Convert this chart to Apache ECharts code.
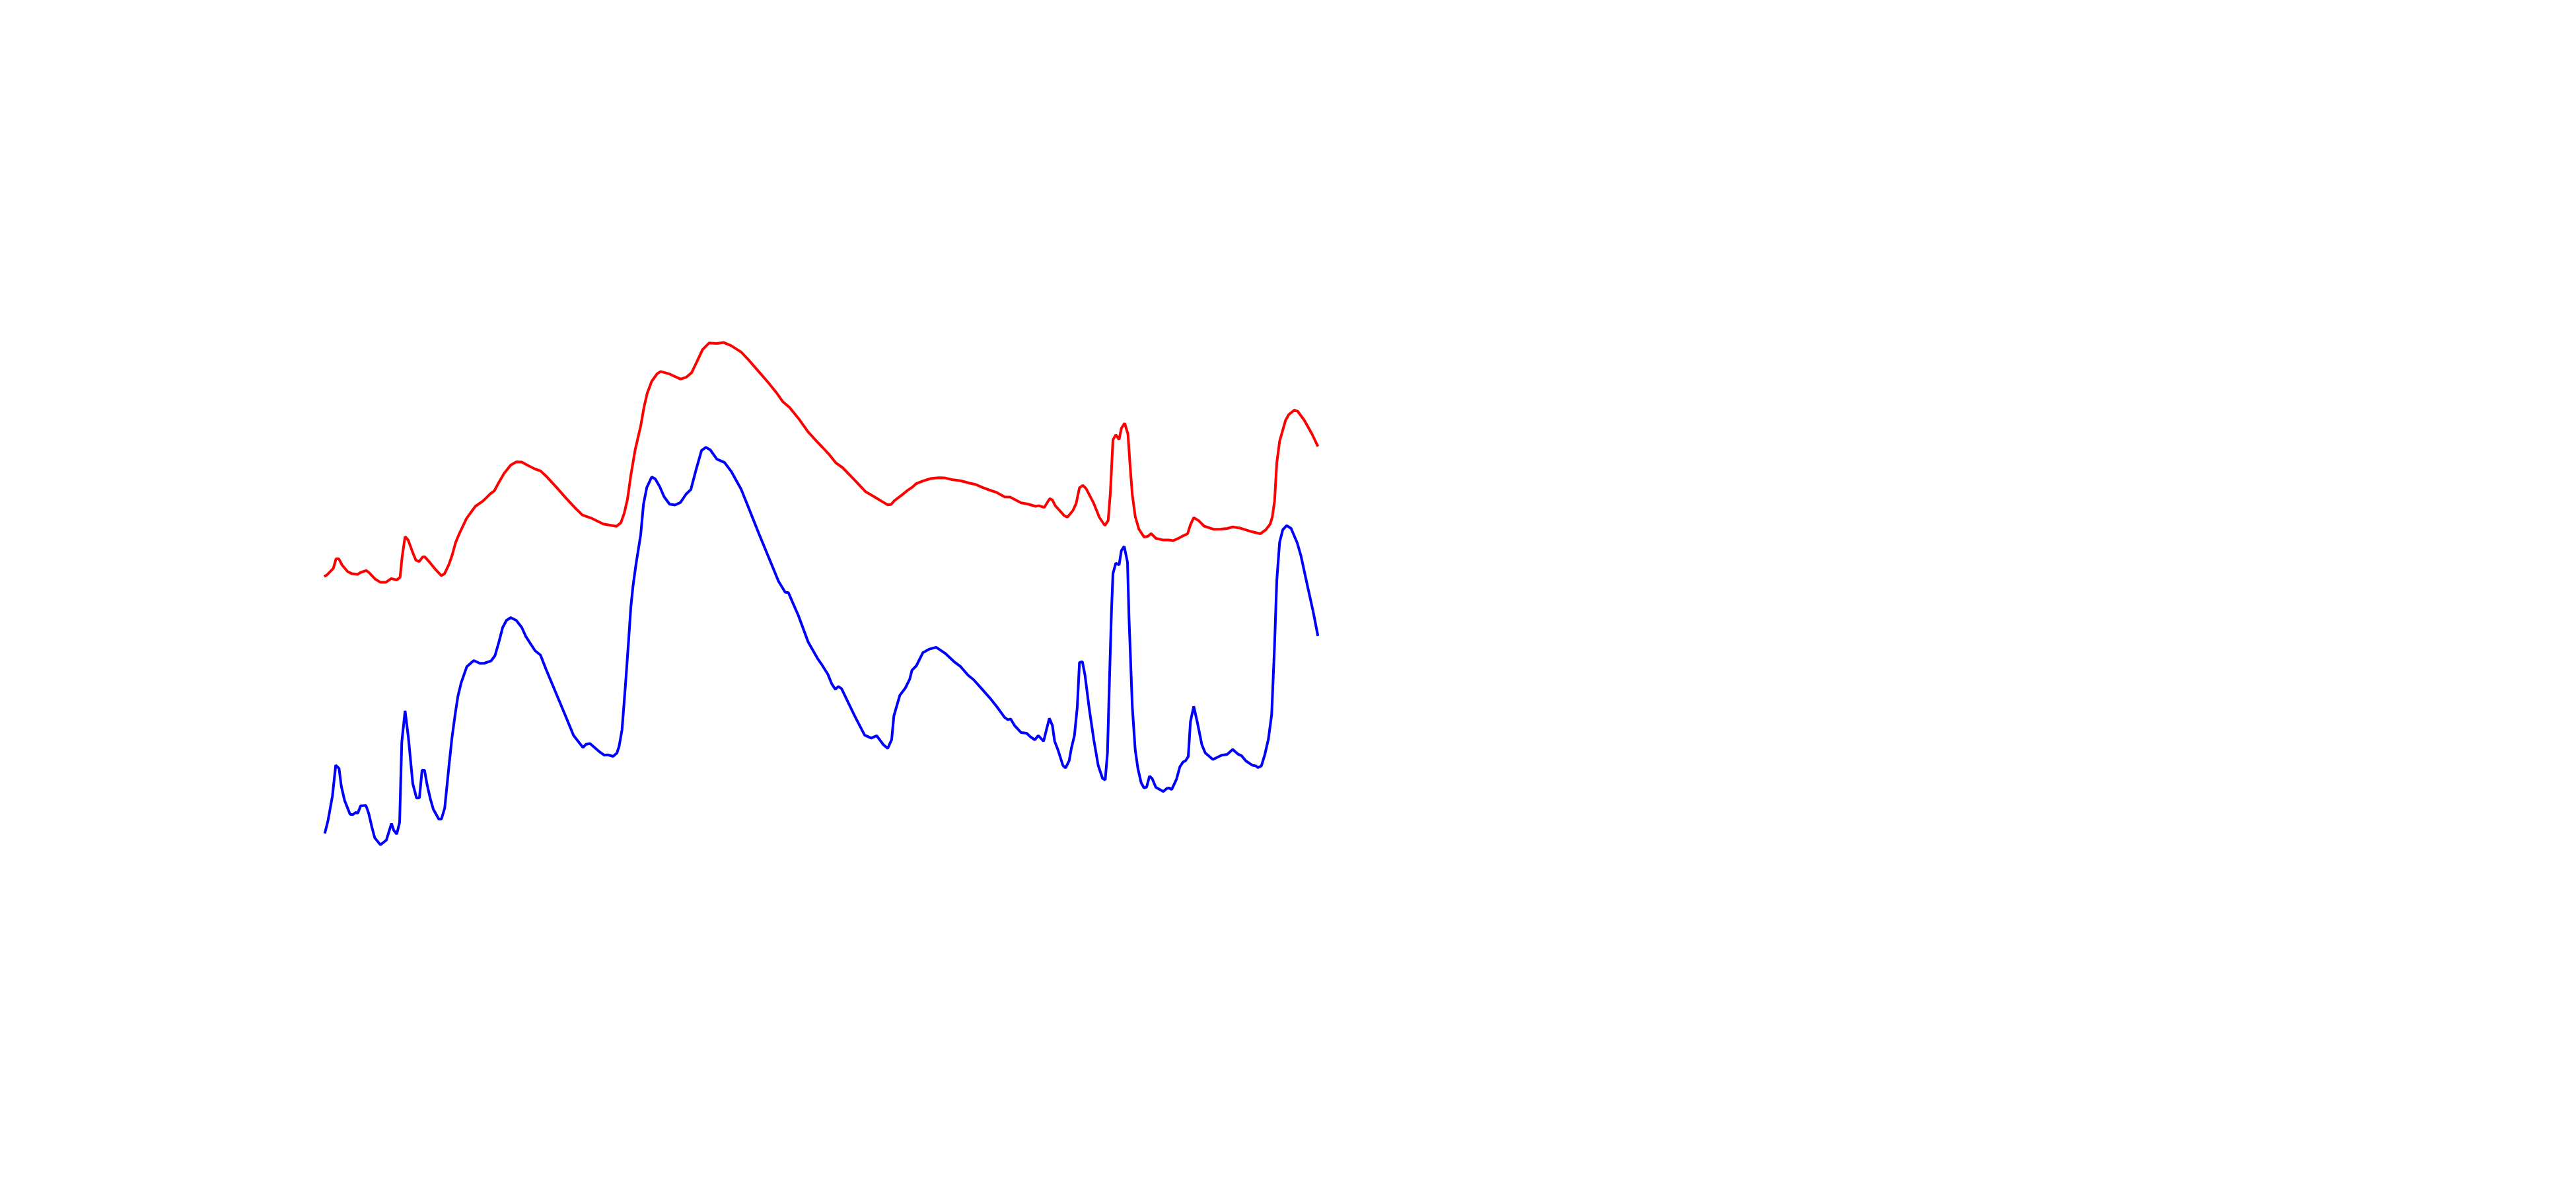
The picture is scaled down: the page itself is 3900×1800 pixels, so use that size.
<!DOCTYPE html>
<html>
<head>
<meta charset="utf-8">
<script src="https://cdn.jsdelivr.net/npm/echarts@6/dist/echarts.min.js"></script>
<style>html,body{margin:0;padding:0;background:#fff}#c{width:3900px;height:1800px}</style>
</head>
<body>
<div id="c"></div>
<script>
const redX = [0.7,4.7,14.7,18.7,23,28,36.3,43,51.3,56.3,64.7,69.7,78,86.3,94,102.3,110.7,115.7,118.7,123.3,128,134.7,139.7,144.7,149.7,153,161.3,169.7,178,183,189.7,194.7,199.7,204.7,216.3,229.7,241.3,253,258.3,265,273.3,283.3,291.7,300,310,320,328.3,336.7,353.3,366.7,380,391.7,405,423.3,433.3,443.3,450,455,460,465,471.7,480,485,490,496.7,505,510.3,523.7,540.3,548.7,557,565.3,573.7,583.7,595.3,605.3,617,632,642,655.3,672,685.3,695.3,705.3,718.7,733.7,745.3,755,764,775.7,785.7,804,820.7,834,845.7,854,859,864,875.7,884,890.7,897.3,907.3,919,930.7,940.7,950.7,964,977.3,987.3,997.3,1007,1019.3,1031,1039.3,1056,1066,1077.7,1082.7,1091,1099.3,1103.3,1107.7,1121,1126,1134.3,1139.3,1144.3,1149.3,1154.3,1166,1174.3,1182.7,1187.7,1191,1195,1199.3,1204.3,1207.7,1212.7,1217.7,1221,1224.3,1228.7,1234.3,1242,1247.7,1252.7,1260,1271.3,1279.7,1286.3,1293,1299.7,1308,1312.3,1317.3,1324.7,1333,1348,1358,1368,1376.3,1388,1404.7,1418,1426.3,1433,1436.3,1439.7,1443,1447.3,1456.3,1461.3,1469.7,1474.7,1484.7,1496.3,1505.3];
const redY = [427.3,429.4,439.6,453.9,453.9,444.5,434.7,431.4,430.6,433.5,436.3,432.2,423.3,418.4,418.4,424.1,422,426.1,455.9,487.8,482.4,464.1,451.8,449.8,456.7,457.1,447.8,437.6,428.6,431.4,445.7,460,478.4,490.6,515.1,533.5,541.6,553,556.8,569.3,583.6,596.1,600.7,600.4,595,590,587.1,579.3,561.4,546.1,531.8,520.4,515.7,506.8,505,503.2,508.6,522.9,544.3,580,619.3,655,683.6,705,722.9,734.3,737.6,733.8,726.1,728.8,735.7,752.9,770.9,780.8,780.1,781.6,776.6,767.1,756.7,741.4,722.3,705.8,691.7,683.3,666.8,645.8,633.1,623,613.4,599.1,592,573.2,555.4,547.8,540.6,535.7,536.2,542,550.9,557.6,562.1,567.9,571.9,575.5,576.8,576.4,574.1,572.3,568.8,566.5,562.1,558.5,554.3,547.8,547.4,538.7,537,533.5,534.4,531.8,545.2,543,534.4,519.6,517,527,537.8,561.7,565.2,560.4,537.8,517,504.5,511.8,553,634.1,641.9,634.6,651.5,659.3,642.8,594.2,550.9,518.3,498.8,487.1,488,492.3,485,482.4,482.4,481.5,484.6,488.1,492,505.7,516.3,511.9,503.5,498.7,499.1,500,502.2,500.4,495.2,492,497.8,506.6,517.6,541.8,599,632,663.7,672.5,679.1,677.3,663.7,643,624.1];
const blueX = [1.7,6.7,13.3,18.3,23.3,26.7,31.7,40,44.3,48.3,51.7,56,64,68.3,73.3,77.3,86,95,102.7,106,110.7,115,118.3,123.3,128.3,135,140.7,145,149,152.7,156.7,161.7,166,174.3,178.3,183.3,190,194.3,199.3,203.3,208.3,216.7,227.3,236.7,243.3,253.3,259.3,265,271,276.7,283.3,291.7,300,306,320,328.3,336.7,350,366.7,378.3,392.7,397.3,403.3,416.7,425,430,438.3,444,447.3,451.7,456.7,461.7,465,468.3,472.7,480,484.3,489.3,496.7,502,508.7,515.3,523.7,532,540.3,548.7,556,563.7,572,578.7,585.3,595.3,607,617,632,642,658.7,675.3,688.7,698.7,703.7,710.3,718.7,733.6,747.6,754,763.6,769,774.7,779,784,804,819,829,837.3,847.3,854,860,863.3,872.3,880.7,887.3,890.7,897.3,907.3,917.3,927.3,940.7,954,964,975.7,984,994,1009,1019.3,1031,1036,1040,1046,1056,1064.3,1069.3,1076.7,1082,1090,1094.3,1098.7,1103.3,1106.7,1112,1119.3,1123.3,1128.7,1132,1136.7,1141,1144.3,1148.7,1152.7,1159.3,1166,1172.7,1179.3,1183.3,1186.7,1189.3,1192.7,1195,1199.3,1204.3,1207.7,1212,1217,1219.3,1224.3,1228.7,1232.7,1237.7,1242,1246,1250.3,1254.3,1260,1271.3,1276.3,1279.7,1284,1291.3,1296.3,1301.3,1304.7,1309,1312.3,1317.3,1323,1329.7,1334.7,1346.3,1359.7,1368,1376.3,1384.7,1389.7,1396.3,1406.3,1411.3,1414.7,1419.7,1424.7,1430.3,1435.3,1439.7,1443,1447.3,1452,1458,1464.7,1474,1479.7,1489.7,1498,1505.3];
const blueY = [38.3,58.3,95,141.7,136.7,110,88.3,67.3,66.7,70,69,80,80.7,68.3,46.7,31.7,21,28.3,53.3,43.3,37.3,55,176.7,224,183.3,113.3,91.7,92.3,134,134,111.7,90,75,60,60,76.7,143.3,183.3,220,246,266.7,290.7,300,295.7,296,299.3,307.3,326.7,350,360.7,365,360.7,350,336.7,315,308.3,286.7,255,215,186.7,168.3,173.3,174.3,162.7,156.7,157.3,155,160,170,195,260,330,380,412.3,444.4,490.5,537.2,562.2,578,575,563.5,548.2,536.7,535.5,539.4,552,558.9,588.4,617.8,622.8,619,604.8,599.8,586.4,559.6,534.8,492.7,452.5,420,403.5,402.7,387.4,368.3,328,303.4,294.2,278.8,265.2,256.3,260.7,257.6,216.1,187.1,182.6,186.2,172.8,167,180.4,216.1,247.4,258.5,271.9,285.3,292,312.1,317.4,320.1,311.2,298.7,291.1,277.7,271,259.8,242.9,230,213.9,210.4,211.7,201.7,190.9,190,185.2,180,186.5,177.9,195.2,212.6,201.7,177.9,164,141,137.5,148.4,167,186.5,229.9,297.1,298.4,277.6,225.6,180,141,121.5,119.3,160.5,255.9,373,431.6,447.6,444.6,466.3,472.8,448.9,364.4,229.9,164.9,136.7,115,107.2,108.5,125,121.5,108,101.8,106.2,107.1,104.9,120.7,139.2,146.7,148,154.6,207.4,230.7,205.2,172.2,160.3,150.2,156.8,158.1,165.6,158.1,155.9,148,141.4,140.5,137.9,140.5,156.8,181,218.4,324,420.8,478.9,497.8,504.4,500,478,458.2,412,374.6,337.2];

const pairs = (xs, ys) => xs.map((x, i) => [x, ys[i]]);
const chart = echarts.init(document.getElementById('c'));
chart.setOption({
  animation: false,
  backgroundColor: '#ffffff',
  grid: { left: 490, right: 1905, top: 300, bottom: 500 },
  xAxis: { type: 'value', min: 0, max: 1505, show: false },
  yAxis: { type: 'value', min: 0, max: 1000, show: false },
  series: [
    { type: 'line', data: pairs(redX, redY), showSymbol: false, smooth: false,
      lineStyle: { color: '#ff0000', width: 4 }, itemStyle: { color: '#ff0000' } },
    { type: 'line', data: pairs(blueX, blueY), showSymbol: false, smooth: false,
      lineStyle: { color: '#0000ff', width: 4 }, itemStyle: { color: '#0000ff' } }
  ]
});
</script>
</body>
</html>
